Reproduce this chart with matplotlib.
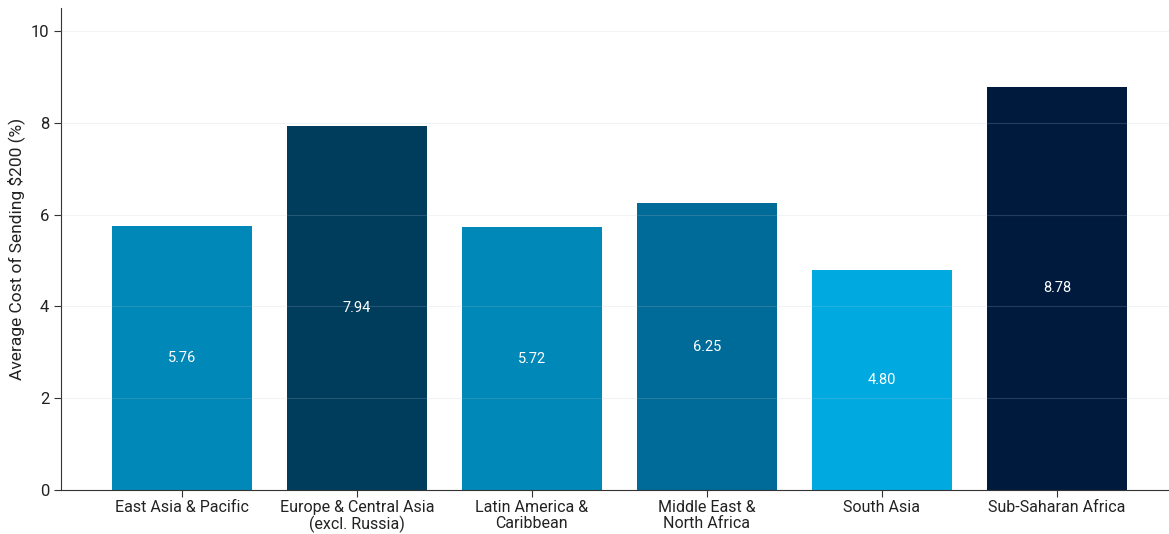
import matplotlib.pyplot as plt

# average remittance cost by region
regions = ["East Asia & Pacific", "Europe & Central Asia\n(excl. Russia)",
           "Latin America &\nCaribbean", "Middle East &\nNorth Africa",
           "South Asia", "Sub-Saharan Africa"]
cost = [5.76, 7.94, 5.72, 6.25, 4.80, 8.78]
colors = ["#0088b8", "#003c5c", "#0088b8", "#006a98", "#00aae1", "#001a3e"]

plt.rcParams['font.family'] = ['Roboto', 'DejaVu Sans']

fig = plt.figure(figsize=(11.69, 5.34), dpi=100)
ax = fig.add_axes([61 / 1169, 44 / 534, (1169 - 61) / 1169, (490 - 8) / 534])

x = range(len(regions))
bars = ax.bar(x, cost, width=0.8, color=colors, zorder=2)
for xi, v in zip(x, cost):
    ax.text(xi, v / 2, f"{v:.2f}", ha="center", va="center",
            color="white", fontsize=10.5, zorder=4)

ax.set_xlim(-0.69, 5.64)
ax.set_ylim(0, 10.5)
ax.set_yticks([0, 2, 4, 6, 8, 10])
ax.set_xticks(list(x))
ax.set_xticklabels(regions, fontsize=11.5, color="#222222", linespacing=1.05)
ax.tick_params(axis="y", labelsize=12, length=5, color="#333333",
               labelcolor="#222222")
ax.tick_params(axis="x", length=5, color="#333333", pad=2.5)
ax.yaxis.grid(True, color="#b8c8d4", linewidth=0.8, zorder=3, alpha=0.2)
ax.set_axisbelow(False)
ax.set_ylabel("Average Cost of Sending $200 (%)", fontsize=12.5, color="#222222")

for side in ["top", "right"]:
    ax.spines[side].set_visible(False)
for side in ["left", "bottom"]:
    ax.spines[side].set_color("#333333")

fig.savefig("out.png", dpi=100)
